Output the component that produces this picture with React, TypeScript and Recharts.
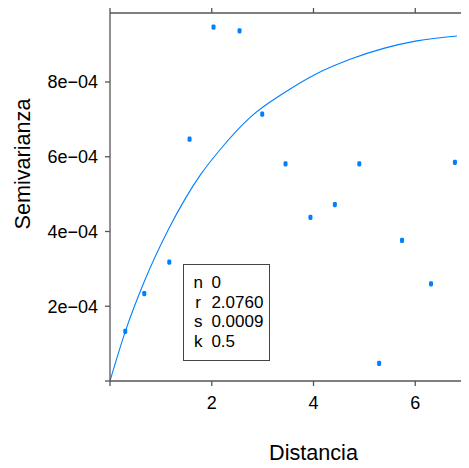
import { ComposedChart, Line, Scatter, XAxis, YAxis } from "recharts";

const distancia = [0.3, 0.674, 1.165, 1.564, 2.035, 2.546, 2.992, 3.45, 3.94, 4.42, 4.9, 5.29, 5.74, 6.31, 6.78];
const semivarianza = [
  1.33e-4, 2.34e-4, 3.18e-4, 6.47e-4, 9.47e-4, 9.37e-4, 7.14e-4, 5.81e-4, 4.38e-4, 4.72e-4, 5.81e-4,
  0.47e-4, 3.76e-4, 2.6e-4, 5.85e-4,
];

// fitted model curve
const modeloX = [0, 0.3, 0.68, 1.15, 1.48, 1.77, 2.17, 2.76, 3.41, 4.07, 4.72, 5.38, 6.03, 6.82];
const modeloY = [
  0, 1.32e-4, 2.68e-4, 4.06e-4, 4.88e-4, 5.5e-4, 6.2e-4, 7.06e-4, 7.7e-4, 8.23e-4, 8.61e-4, 8.9e-4,
  9.1e-4, 9.23e-4,
];

const xTicks = [0, 2, 4, 6];
const yTicks = [0, 0.0002, 0.0004, 0.0006, 0.0008];

const parametros = [
  { k: "n", v: "0" },
  { k: "r", v: "2.0760" },
  { k: "s", v: "0.0009" },
  { k: "k", v: "0.5" },
];

const puntos = distancia.map((x, i) => ({ x, y: semivarianza[i] }));
const modelo = modeloX.map((x, i) => ({ x, y: modeloY[i] }));

const BLUE = "#0080ff";
const AXIS = "#555";
const FONT = "'Liberation Sans', Arial, Helvetica, sans-serif";

const fmtY = (v: number) => (v === 0 ? "" : `${Math.round(v * 1e4)}e\u221204`);
const fmtX = (v: number) => (v === 0 ? "" : String(v));

function Punto(props: any) {
  const { cx, cy } = props;
  if (cx == null || cy == null) return null;
  return <rect x={cx - 2} y={cy - 2.6} width={4} height={5.2} rx={1.4} fill={BLUE} />;
}

const SinEtiqueta = () => <g />;

export default function App() {
  return (
    <div
      style={{
        position: "relative",
        width: 461,
        height: 460,
        overflow: "hidden",
        fontFamily: FONT,
      }}
    >
      <ComposedChart width={509} height={460} margin={{ top: 0, right: 0, left: 0, bottom: 0 }}>
        <XAxis
          xAxisId="top"
          orientation="top"
          type="number"
          dataKey="x"
          domain={[0, 8]}
          ticks={xTicks}
          height={5}
          tick={SinEtiqueta}
          tickSize={5}
          axisLine={{ stroke: AXIS, strokeWidth: 1.3 }}
          tickLine={{ stroke: AXIS, strokeWidth: 1.3 }}
        />
        <XAxis
          type="number"
          dataKey="x"
          domain={[0, 8]}
          ticks={xTicks}
          height={87}
          tickSize={5}
          tickMargin={10}
          tickFormatter={fmtX}
          tick={{ fill: "#000", fontSize: 18 }}
          axisLine={{ stroke: AXIS, strokeWidth: 1.3 }}
          tickLine={{ stroke: AXIS, strokeWidth: 1.3 }}
          label={{ value: "Distancia", position: "insideBottom", offset: 8, fontSize: 21.6, fill: "#000" }}
        />
        <YAxis
          type="number"
          dataKey="y"
          domain={[0, 0.0009846]}
          ticks={yTicks}
          width={102}
          tickSize={5}
          tickMargin={7}
          tickFormatter={fmtY}
          tick={{ fill: "#000", fontSize: 18 }}
          axisLine={{ stroke: AXIS, strokeWidth: 1.3 }}
          tickLine={{ stroke: AXIS, strokeWidth: 1.3 }}
          label={{
            content: () => (
              <text
                x={22}
                y={156}
                transform="rotate(-90 22 156)"
                textAnchor="middle"
                fontSize={21.6}
                fill="#000"
              >
                Semivarianza
              </text>
            ),
          }}
        />
        <Line
          data={modelo}
          dataKey="y"
          type="monotone"
          stroke={BLUE}
          strokeWidth={1.1}
          dot={false}
          activeDot={false}
          isAnimationActive={false}
        />
        <Line
          xAxisId="top"
          data={modelo}
          dataKey="y"
          stroke="none"
          dot={false}
          activeDot={false}
          legendType="none"
          isAnimationActive={false}
        />
        <Scatter data={puntos} dataKey="y" fill={BLUE} shape={Punto} isAnimationActive={false} />
      </ComposedChart>
      <div
        style={{
          position: "absolute",
          left: 175,
          top: 256,
          width: 87,
          height: 97,
          boxSizing: "border-box",
          border: "1.3px solid #444",
          background: "#fff",
          paddingTop: 8,
          fontSize: 17,
          color: "#000",
        }}
      >
        {parametros.map((p) => (
          <div key={p.k} style={{ display: "flex", height: 19.6, lineHeight: "19.6px" }}>
            <span style={{ marginLeft: 8, width: 12.4, textAlign: "center" }}>{p.k}</span>
            <span style={{ marginLeft: 7 }}>{p.v}</span>
          </div>
        ))}
      </div>
    </div>
  );
}
